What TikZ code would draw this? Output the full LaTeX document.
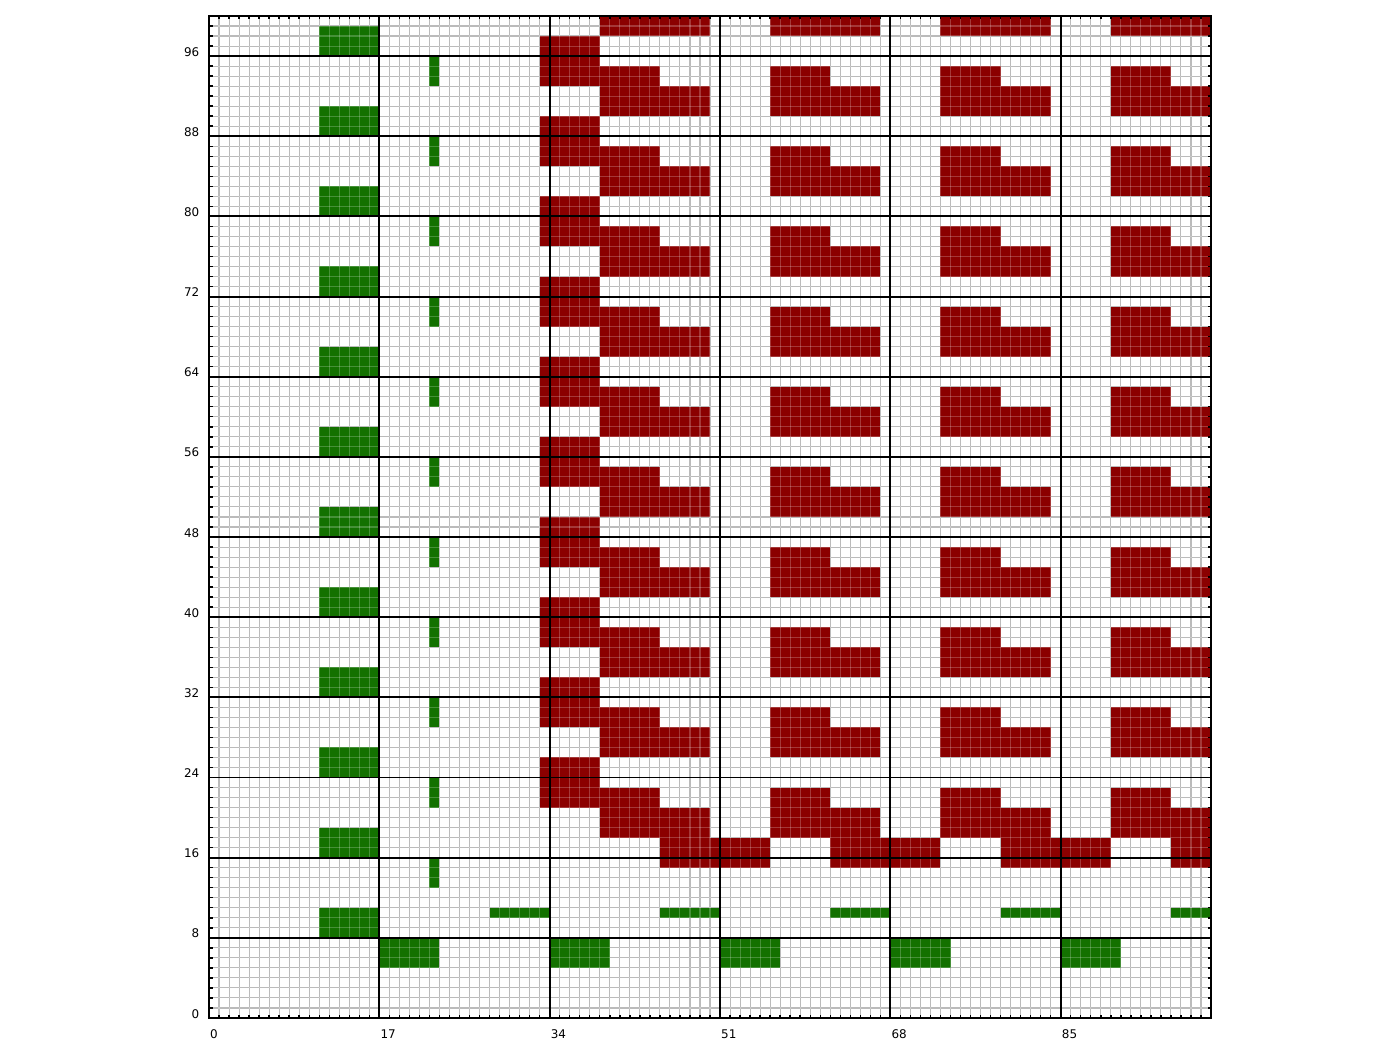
\documentclass[tikz,border=0pt]{standalone}
\usepackage{fontspec}
\setmainfont{DejaVu Sans}
\definecolor{dred}{RGB}{139,0,0}
\definecolor{dgreen}{RGB}{19,113,0}
\definecolor{gridgray}{RGB}{168,168,168}
\begin{document}
\begin{tikzpicture}[x=0.1002cm,y=0.1002cm,
  redfill/.style={fill=dred},
  greenfill/.style={fill=dgreen},
  gridline/.style={draw=gridgray,line width=0.3pt},
  overgrid/.style={draw=white,opacity=0.22,line width=0.3pt},
  mainline/.style={draw=black,line width=0.55pt},
  frameline/.style={draw=black,line width=0.6pt},
  tickline/.style={draw=black,line width=0.4pt},
  lbl/.style={font=\fontsize{3.4}{4}\selectfont,inner sep=0pt}]
\useasboundingbox (-20.858,-2.994) rectangle (118.86,101.597);
\foreach \i in {1,...,99} {
  \draw[gridline] (\i,0) -- (\i,100);
  \draw[gridline] (0,\i) -- (100,\i);
}
\begin{scope}
\clip (0,0) rectangle (100,100);
% green blocks
\foreach \k in {1,...,12} \fill[greenfill] (11,8*\k) rectangle (17,8*\k+3);
\foreach \k in {2,...,12} \fill[greenfill] (22,8*\k-3) rectangle (23,8*\k);
\foreach \k in {1,...,5} \fill[greenfill] (17*\k,5) rectangle (17*\k+6,8);
\foreach \k in {2,...,6} \fill[greenfill] (17*\k-6,10) rectangle (17*\k,11);
% red blocks
\foreach \k in {3,...,12} \fill[redfill] (33,8*\k-3) rectangle (39,8*\k+2);
\foreach \k in {3,...,12} {
  \foreach \j in {0,...,3} {
    \fill[redfill] (39+17*\j,8*\k-3) rectangle (45+17*\j,8*\k-1);
    \fill[redfill] (39+17*\j,8*\k-6) rectangle (50+17*\j,8*\k-3);
  }
}
\foreach \j in {0,...,3} {
  \fill[redfill] (39+17*\j,98) rectangle (50+17*\j,101);
  \fill[redfill] (45+17*\j,15) rectangle (56+17*\j,18);
}
\end{scope}
\foreach \i in {1,...,99} {
  \draw[overgrid] (\i,0) -- (\i,100);
  \draw[overgrid] (0,\i) -- (100,\i);
}
% major lines
\foreach \k in {1,...,12} \draw[mainline] (0,8*\k) -- (100,8*\k);
\foreach \k in {1,...,5} \draw[mainline] (17*\k,0) -- (17*\k,100);
% ticks
\foreach \i in {1,...,99} {
  \draw[tickline] (\i,0) -- (\i,0.35);
  \draw[tickline] (\i,100) -- (\i,99.65);
  \draw[tickline] (0,\i) -- (0.35,\i);
  \draw[tickline] (100,\i) -- (99.65,\i);
}
\draw[frameline] (0,0) rectangle (100,100);
% labels
\foreach \v in {0,17,34,51,68,85} \node[lbl,anchor=north west] (xl\v) at (\v+0.05,-1.1) {\v};
\foreach \v in {0,8,...,96} \node[lbl,anchor=base east] (yl\v) at (-0.9,\v) {\v};
\end{tikzpicture}
\end{document}
